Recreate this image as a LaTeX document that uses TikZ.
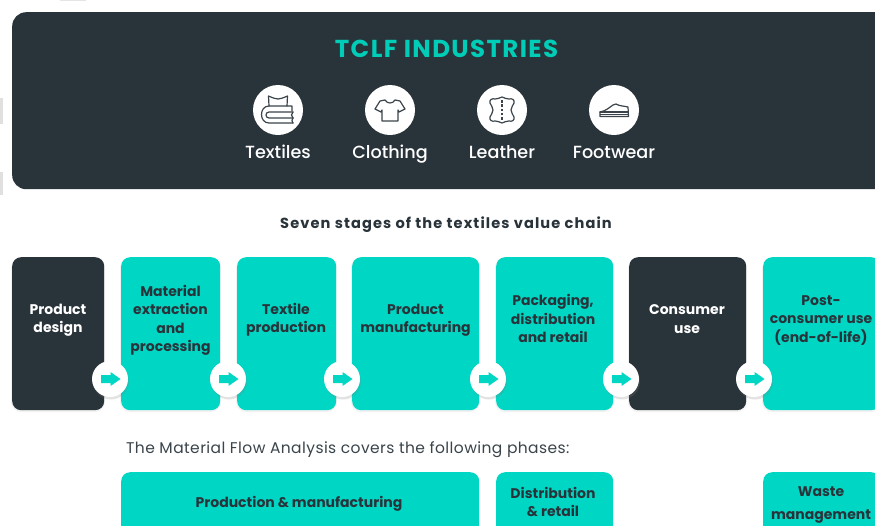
\documentclass[tikz,border=0pt]{standalone}
\usepackage{fontspec}
\setmainfont{Poppins}
\newfontfamily\popmed{Poppins Medium}
\usetikzlibrary{shadows}
\definecolor{darkbox}{HTML}{29333A}
\definecolor{tealbox}{HTML}{00D6C4}
\definecolor{titleteal}{HTML}{00CDB8}
\definecolor{inkc}{HTML}{3A444A}
\tikzset{
  panel/.style={fill=darkbox,rounded corners=14pt,inner sep=0pt},
  stagebox/.style={rounded corners=9pt,inner sep=0pt,anchor=north west},
  darkstage/.style={stagebox,fill=darkbox},
  tealstage/.style={stagebox,fill=tealbox},
  boxlabel/.style={align=center,inner sep=0pt,font=\fontsize{14}{18.4}\selectfont\bfseries},
  ondark/.style={boxlabel,text=white},
  onteal/.style={boxlabel,text=darkbox},
  badge/.style={circle,fill=white,minimum size=36pt,inner sep=0pt,drop shadow={opacity=.22,shadow xshift=1pt,shadow yshift=-2.5pt}},
  iconcircle/.style={circle,fill=white,minimum size=50pt,inner sep=0pt},
  iconlabel/.style={text=white,inner sep=0pt,text height=12.5pt,text depth=4pt,font=\fontsize{17.6}{20}\selectfont\popmed},
  iconline/.style={draw=inkc,line width=1.2pt,line join=round,line cap=round},
  softshadow/.style={fill=black,fill opacity=.05,rounded corners=10pt}
}
\begin{document}
\begin{tikzpicture}[x=1pt,y=-1pt]
\useasboundingbox (0,0) rectangle (875,525);
\clip (0,0) rectangle (875,525);
\fill[white] (0,0) rectangle (875,525);
% faint page marks
\fill[black!12] (0,98) rectangle (3,124);
\fill[black!12] (0,172) rectangle (3,195);
\fill[black!10] (60,0) rectangle (86,1);
% top panel
\node[panel,anchor=north west,minimum width=880pt,minimum height=177pt] (panel) at (12,12) {};
\node[inner sep=0pt,text=titleteal,font=\fontsize{24.5}{26}\selectfont\bfseries\addfontfeature{LetterSpace=5.7}] (title) at (446.5,49) {TCLF INDUSTRIES};
\node[iconcircle] (c1) at (278,110) {};
\node[iconcircle] (c2) at (390,110) {};
\node[iconcircle] (c3) at (502,110) {};
\node[iconcircle] (c4) at (614,110) {};
\node[iconlabel] (l1) at (278,154) {Textiles};
\node[iconlabel] (l2) at (390,154) {Clothing};
\node[iconlabel] (l3) at (502,154) {Leather};
\node[iconlabel] (l4) at (614,154) {Footwear};
% textiles icon
\begin{scope}[shift={(278,110)}]
\draw[iconline] (-9,-4) -- (-9.5,-14) .. controls (-5,-12) and (-2,-11) .. (0,-11) .. controls (2,-11) and (5,-12) .. (9.5,-14) -- (9,-4);
\draw[iconline] (14,1) -- (14,-4) -- (-9,-4) .. controls (-19,-4) and (-19,13) .. (-9,13) -- (15,13);
\draw[iconline] (15,2) -- (-9,2) .. controls (-13,2) and (-13,8) .. (-9,8) -- (15,8);
\draw[iconline] (15,2) .. controls (13,4) and (13,6) .. (15,8);
\draw[iconline] (15,8) .. controls (13.5,10) and (13.5,11) .. (15,13);
\end{scope}
% shirt icon
\begin{scope}[shift={(390,110)}]
\draw[iconline] (-5,-10) .. controls (-3,-6) and (3,-6) .. (5,-10) -- (10,-9) -- (15,-1) -- (9,2) -- (8,0) -- (8,11) -- (-8,11) -- (-8,0) -- (-9,2) -- (-15,-1) -- (-10,-9) -- cycle;
\end{scope}
% leather icon
\begin{scope}[shift={(502,110)}]
\draw[iconline] (0,-13) .. controls (3,-13) and (4,-10) .. (7,-11) .. controls (10,-12) and (13,-10) .. (12,-7) .. controls (11,-4) and (9,-3) .. (9,0) .. controls (9,3) and (11,4) .. (12,7) .. controls (13,10) and (10,12) .. (7,11) .. controls (4,10) and (3,13) .. (0,13) .. controls (-3,13) and (-4,10) .. (-7,11) .. controls (-10,12) and (-13,10) .. (-12,7) .. controls (-11,4) and (-9,3) .. (-9,0) .. controls (-9,-3) and (-11,-4) .. (-12,-7) .. controls (-13,-10) and (-10,-12) .. (-7,-11) .. controls (-4,-10) and (-3,-13) .. (0,-13) -- cycle;
\draw[draw=inkc,line width=1.6pt,dash pattern=on 2.5pt off 1.8pt] (0,-10) -- (0,10);
\end{scope}
% shoe icon
\begin{scope}[shift={(614,110)}]
\draw[iconline] (-14,2) .. controls (-8,1) and (-4,-3) .. (-1,-5) -- (2,-6) .. controls (5,-4) and (10,-4) .. (14,-3) -- (14.5,6.5) -- (-14,6.5) -- cycle;
\draw[iconline] (-14,2) -- (14.5,2);
\draw[draw=inkc,line width=1pt] (-14,4.3) -- (14.5,4.3);
\end{scope}
% headings
\node[inner sep=0pt,text=darkbox,font=\fontsize{14.6}{18}\selectfont\bfseries\addfontfeature{LetterSpace=7.6}] (h1) at (446,225) {Seven stages of the textiles value chain};
\node[inner sep=0pt,text=inkc,anchor=west,font=\fontsize{15.5}{18}\selectfont\addfontfeature{LetterSpace=2.7}] (h2) at (126,450) {The Material Flow Analysis covers the following phases:};
% soft shadows
\foreach \a/\b in {12/104,121/220,237/336,352/479,496/613,629/746,763/880}{
  \fill[softshadow] (\a-1,258) rectangle (\b+1,412);
}
% stage boxes
\node[darkstage,minimum width=92pt,minimum height=153pt] (s1) at (12,257) {};
\node[tealstage,minimum width=99pt,minimum height=153pt] (s2) at (121,257) {};
\node[tealstage,minimum width=99pt,minimum height=153pt] (s3) at (237,257) {};
\node[tealstage,minimum width=127pt,minimum height=153pt] (s4) at (352,257) {};
\node[tealstage,minimum width=117pt,minimum height=153pt] (s5) at (496,257) {};
\node[darkstage,minimum width=117pt,minimum height=153pt] (s6) at (629,257) {};
\node[tealstage,minimum width=117pt,minimum height=153pt] (s7) at (763,257) {};
\node[ondark] (t1) at (58,320) {Product\\design};
\node[onteal] (t2) at (170.5,320.5) {Material\\extraction\\and\\processing};
\node[onteal] (t3) at (286,320) {Textile\\production};
\node[onteal] (t4) at (415.5,320) {Product\\manufacturing};
\node[onteal] (t5) at (553,318.5) {Packaging,\\distribution\\and retail};
\node[ondark] (t6) at (687,319) {Consumer\\use};
\node[onteal] (t7) at (821,320.5) {Post-\\consumer use\\(end-of-life)};
% connector badges
\foreach \n/\x in {1/110,2/228,3/342,4/488,5/621,6/754}{
  \node[badge] (b\n) at (\x,379) {};
  \fill[tealbox] (b\n.center) ++(-9,-4) -- ++(9.5,0) -- ++(0,-3) -- ++(10,7) -- ++(-10,7) -- ++(0,-3) -- ++(-9.5,0) -- cycle;
}
% bottom boxes
\node[tealstage,minimum width=358pt,minimum height=80pt] (p1) at (121,472) {};
\node[tealstage,minimum width=117pt,minimum height=80pt] (p2) at (496,472) {};
\node[tealstage,minimum width=117pt,minimum height=80pt] (p3) at (763,472) {};
\node[onteal] (pt1) at (299,504) {Production \& manufacturing};
\node[onteal] (pt2) at (553,502) {Distribution\\\& retail};
\node[onteal,font=\fontsize{14}{23}\selectfont\bfseries] (pt3) at (821,505) {Waste\\management};
\end{tikzpicture}
\end{document}
